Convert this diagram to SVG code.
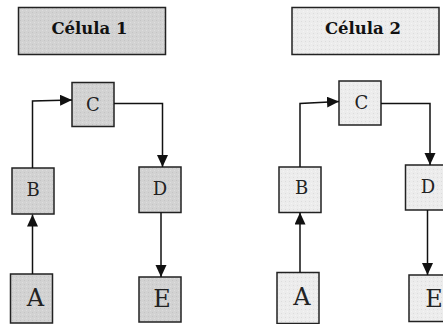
<svg xmlns="http://www.w3.org/2000/svg" width="443" height="324" viewBox="0 0 443 324">
  <defs>
    <marker id="arrow" markerUnits="userSpaceOnUse" markerWidth="13" markerHeight="12" refX="12" refY="5.5" orient="auto">
      <path d="M0,0 L12,5.5 L0,11 z" fill="#111"/>
    </marker>
    <pattern id="stipple1" width="4" height="4" patternUnits="userSpaceOnUse">
      <rect width="4" height="4" fill="#d2d2d2"/>
      <rect x="0" y="0" width="1" height="1" fill="#c4c4c4"/>
      <rect x="2" y="2" width="1" height="1" fill="#dedede"/>
    </pattern>
    <pattern id="stipple2" width="4" height="4" patternUnits="userSpaceOnUse">
      <rect width="4" height="4" fill="#ececec"/>
      <rect x="1" y="1" width="1" height="1" fill="#dcdcdc"/>
      <rect x="3" y="3" width="1" height="1" fill="#f4f4f4"/>
    </pattern>
  </defs>
  <style>
    .box { stroke: #222; stroke-width: 1.5; }
    .dark { fill: url(#stipple1); }
    .light { fill: url(#stipple2); }
    .title { font-family: "DejaVu Serif", "Liberation Serif", serif; font-weight: bold; font-size: 17px; fill: #111; text-anchor: middle; }
    .lbl { font-family: "DejaVu Serif", "Liberation Serif", serif; font-size: 18px; fill: #222; text-anchor: middle; }
    .big { font-size: 24px; }
    .wire { fill: none; stroke: #111; stroke-width: 1.5; }
  </style>

  <!-- Cell 1 -->
  <g id="titulo1">
    <rect class="box dark" x="18.5" y="7.5" width="147" height="47"/>
    <text class="title" x="89.5" y="34" textLength="76" lengthAdjust="spacingAndGlyphs">Célula 1</text>
  </g>
  <g id="c1-A">
    <rect class="box dark" x="10.5" y="274" width="42" height="49"/>
    <text class="lbl big" x="35.5" y="306">A</text>
  </g>
  <g id="c1-B">
    <rect class="box dark" x="12" y="168" width="42" height="46"/>
    <text class="lbl" x="33" y="196">B</text>
  </g>
  <g id="c1-C">
    <rect class="box dark" x="72" y="82.5" width="42" height="44"/>
    <text class="lbl" x="93" y="111">C</text>
  </g>
  <g id="c1-D">
    <rect class="box dark" x="139" y="167" width="42" height="45.5"/>
    <text class="lbl" x="160" y="195">D</text>
  </g>
  <g id="c1-E">
    <rect class="box dark" x="139" y="277" width="42" height="45"/>
    <text class="lbl big" x="162" y="307">E</text>
  </g>

  <!-- Cell 2 -->
  <g id="titulo2">
    <rect class="box light" x="292" y="7.5" width="147" height="47"/>
    <text class="title" x="363" y="34" textLength="76" lengthAdjust="spacingAndGlyphs">Célula 2</text>
  </g>
  <g id="c2-A">
    <rect class="box light" x="277" y="272.5" width="42" height="51"/>
    <text class="lbl big" x="302" y="305">A</text>
  </g>
  <g id="c2-B">
    <rect class="box light" x="279" y="167" width="42" height="45.5"/>
    <text class="lbl" x="301.5" y="194">B</text>
  </g>
  <g id="c2-C">
    <rect class="box light" x="339" y="81" width="42" height="44"/>
    <text class="lbl" x="361.5" y="109">C</text>
  </g>
  <g id="c2-D">
    <rect class="box light" x="405.5" y="165" width="42" height="45"/>
    <text class="lbl" x="428" y="192.5">D</text>
  </g>
  <g id="c2-E">
    <rect class="box light" x="409" y="275" width="42" height="46.5"/>
    <text class="lbl big" x="434" y="306.5">E</text>
  </g>

  <!-- Connectors -->
  <g id="connectors">
    <path class="wire" d="M32.5,274 L32.5,214.5" marker-end="url(#arrow)"/>
    <path class="wire" d="M32.5,168 L32.5,101 L72,100" marker-end="url(#arrow)"/>
    <path class="wire" d="M114,103.5 L162.5,103.5 L162.5,167" marker-end="url(#arrow)"/>
    <path class="wire" d="M161,212.5 L161,277" marker-end="url(#arrow)"/>

    <path class="wire" d="M300,272.5 L300,212.5" marker-end="url(#arrow)"/>
    <path class="wire" d="M300,167 L300,103.5 L339,101.5" marker-end="url(#arrow)"/>
    <path class="wire" d="M381,103.5 L430,103.5 L430,165" marker-end="url(#arrow)"/>
    <path class="wire" d="M427.5,210 L427.5,275" marker-end="url(#arrow)"/>
  </g>
</svg>
